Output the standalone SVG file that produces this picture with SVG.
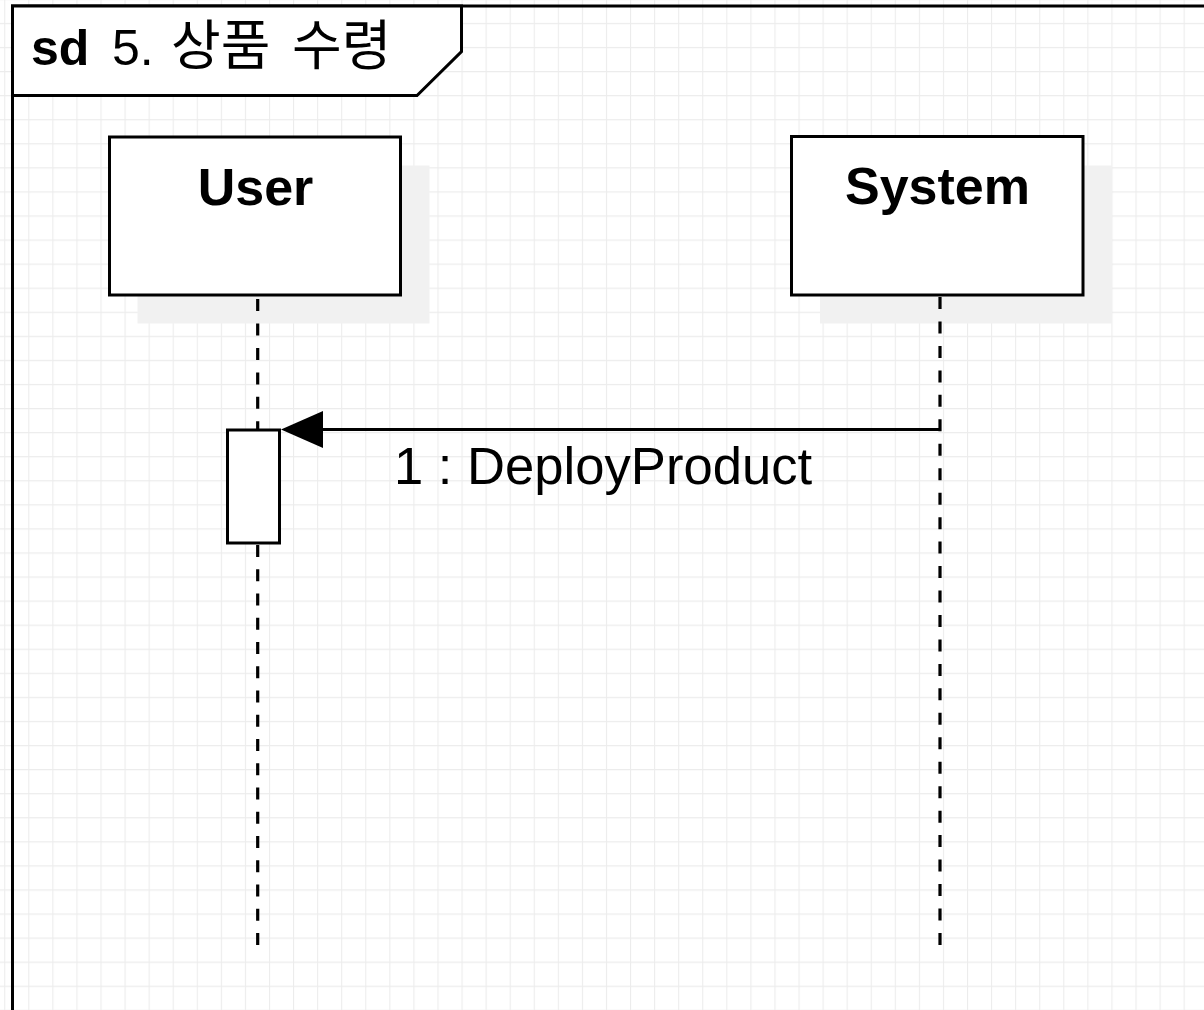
<svg xmlns="http://www.w3.org/2000/svg" width="1204" height="1010" viewBox="0 0 1204 1010">
  <style>
    .box { fill: #ffffff; stroke: #000000; stroke-width: 3; }
    .shadow { fill: #f1f1f1; stroke: none; }
    .life { fill: none; stroke: #000000; stroke-width: 3.2; stroke-dasharray: 12 12.46; }
    .line { fill: none; stroke: #000000; stroke-width: 3; }
    .name { font-family: "Liberation Sans", Arial, sans-serif; font-size: 52px; font-weight: bold; fill: #000000; text-anchor: middle; }
    .label { font-family: "Liberation Sans", Arial, sans-serif; font-size: 52.6px; fill: #000000; }
    .title { font-family: "Liberation Sans", "Noto Sans CJK KR", sans-serif; font-size: 50px; fill: #000000; }
    .ko { font-family: "Noto Sans CJK KR", sans-serif; font-size: 54px; }
  </style>
  <defs>
    <pattern id="grid" patternUnits="userSpaceOnUse" x="4.2" y="-1.2" width="24.07" height="24.07">
      <path d="M0 0 H24.07 M0 0 V24.07" fill="none" stroke="#ececec" stroke-width="2.2"/>
    </pattern>
  </defs>

  <rect x="0" y="0" width="1204" height="1010" fill="#ffffff"/>
  <rect x="0" y="0" width="1204" height="1010" fill="url(#grid)"/>

  <g id="frame">
    <rect x="12.5" y="6" width="1210" height="1030" fill="none" stroke="#000000" stroke-width="3"/>
    <path d="M12.5 6 H461.5 V51.5 L417 95.5 H12.5 Z" fill="#ffffff" stroke="#000000" stroke-width="3" stroke-linejoin="miter"/>
    <text class="title" x="31" y="65"><tspan font-weight="bold">sd</tspan><tspan x="112">5.</tspan><tspan class="ko" x="171" y="64.5">상품</tspan><tspan class="ko" x="292" y="64.5">수령</tspan></text>
  </g>

  <g id="user">
    <rect class="shadow" x="137.5" y="165.5" width="292" height="158"/>
    <rect class="box" x="109.5" y="137" width="291" height="158"/>
    <text class="name" x="255.5" y="205">User</text>
  </g>

  <g id="system">
    <rect class="shadow" x="820" y="165.5" width="292" height="158"/>
    <rect class="box" x="791.5" y="136.5" width="291.5" height="158.5"/>
    <text class="name" x="937.5" y="204">System</text>
  </g>

  <g id="connectors">
    <path class="life" d="M257.7 299 V429"/>
    <path class="life" d="M257.7 545 V945" style="stroke-dasharray: 12 12.25"/>
    <path class="life" d="M940 297 V945"/>
    <path class="line" d="M940 429.5 H322" />
    <path d="M281 429.5 L323 411 L323 448 Z" fill="#000000"/>
    <text class="label" x="394" y="484">1 : DeployProduct</text>
  </g>

  <g id="activation">
    <rect class="box" x="227.5" y="430" width="52" height="113"/>
  </g>
</svg>
